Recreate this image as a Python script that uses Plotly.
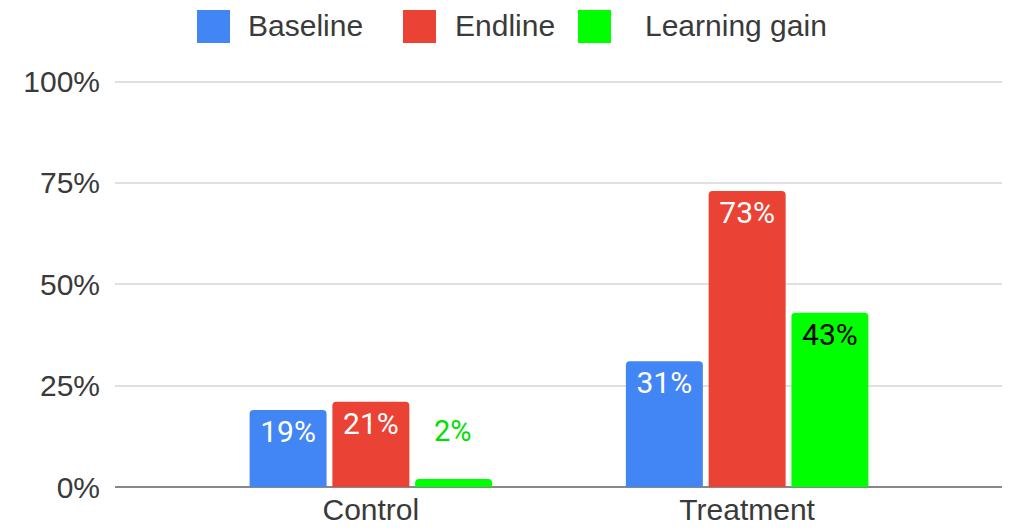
import plotly.graph_objects as go

groups = ["Control", "Treatment"]
series = ["Baseline", "Endline", "Learning gain"]
baseline = [19, 31]
endline = [21, 73]
gain = [2, 43]
colors = ["#4285F4", "#EA4335", "#00FF00"]

y_ticks = [0, 25, 50, 75, 100]
y_labels = ["0%", "25%", "50%", "75%", "100%"]

# page has an 8px body margin, so the figure is drawn 8px in from the corner
OFF = 8
W, H = 1010 - OFF, 528 - OFF
L, R, T, B = 115 - OFF, 7, 80 - OFF, 41
pw, ph = W - L - R, H - T - B


def px_x(p):
    return (p - OFF - L) / pw


def px_y(p):
    return (H - B - (p - OFF)) / ph


fig = go.Figure()

label_font = "Roboto, Arial, sans-serif"
axis_font = "Liberation Sans, Arial, sans-serif"
values = [baseline, endline, gain]

for name, vals, col in zip(series, values, colors):
    if name == "Learning gain":
        # small bars get their label above, large ones inside in black
        text = [f"{v}%" if v >= 10 else "" for v in vals]
        tcolor = "black"
    else:
        text = [f"{v}%" for v in vals]
        tcolor = "white"
    fig.add_trace(go.Bar(
        x=groups,
        y=vals,
        name=name,
        marker=dict(color=col, line=dict(width=0)),
        text=text,
        textposition="inside",
        insidetextanchor="end",
        textangle=0,
        textfont=dict(family=label_font, size=30, color=tcolor),
        showlegend=False,
    ))

# label for the tiny learning-gain bar, floated above it
for g, v in zip(groups, gain):
    if v < 10:
        fig.add_annotation(
            x=g, y=v, xref="x", yref="y",
            text=f"{v}%", showarrow=False,
            xshift=82, yshift=48,
            font=dict(family=label_font, size=29, color="#00E000"),
        )

# legend: rounded squares + text, across the top
leg_sq = [197, 403, 578]
leg_txt = [246, 453, 643]
for name, col, sx, tx in zip(series, colors, leg_sq, leg_txt):
    fig.add_shape(
        type="rect", xref="paper", yref="paper",
        x0=px_x(sx), x1=px_x(sx + 33), y0=px_y(43), y1=px_y(10),
        fillcolor=col, line=dict(width=0), layer="above",
    )
    fig.add_annotation(
        x=px_x(tx), y=px_y(26), xref="paper", yref="paper",
        xanchor="left", yanchor="middle", showarrow=False,
        text=name, font=dict(family=axis_font, size=30, color="#3a3a3a"),
    )

fig.update_layout(
    width=W, height=H,
    margin=dict(l=L, r=R, t=T, b=B),
    plot_bgcolor="white",
    paper_bgcolor="white",
    barmode="group",
    bargap=0.34,
    bargroupgap=0.07,
    barcornerradius=4,
    showlegend=False,
    font=dict(family=axis_font, size=30, color="#3a3a3a"),
)

fig.update_xaxes(
    range=[-0.68, 1.68],
    showgrid=False,
    showline=False,
    ticks="",
    automargin=False,
    ticklabelstandoff=2,
    tickfont=dict(size=30, color="#3a3a3a"),
)
fig.update_yaxes(
    range=[0, 100.4],
    tickvals=y_ticks,
    ticktext=y_labels,
    showgrid=True,
    gridcolor="#E0E0E0",
    gridwidth=2,
    zeroline=True,
    zerolinecolor="#888888",
    zerolinewidth=2,
    ticks="",
    automargin=False,
    ticklabelstandoff=14,
    tickfont=dict(size=30, color="#3a3a3a"),
)

fig.write_html("out.html")
